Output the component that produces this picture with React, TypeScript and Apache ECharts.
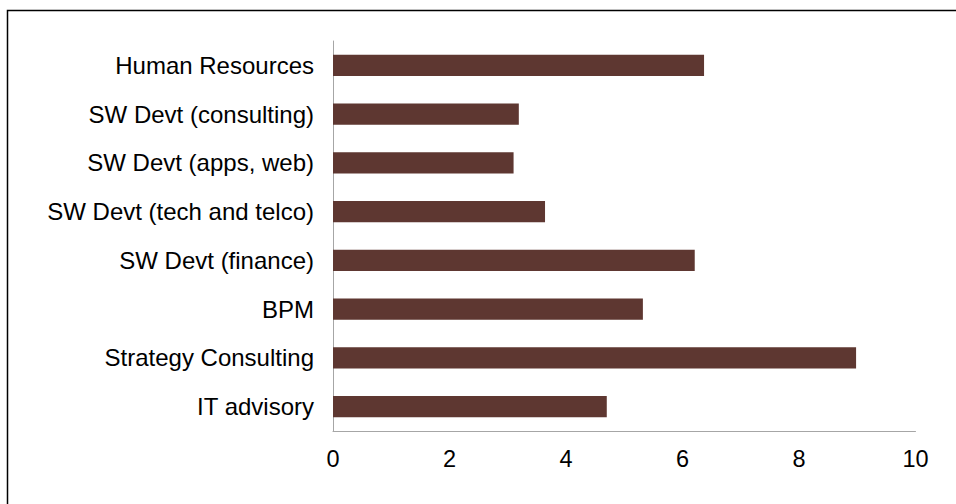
import React, { useEffect, useRef } from "react";
import * as echarts from "echarts";

const categories = [
  "IT advisory",
  "Strategy Consulting",
  "BPM",
  "SW Devt (finance)",
  "SW Devt (tech and telco)",
  "SW Devt (apps, web)",
  "SW Devt (consulting)",
  "Human Resources",
];
const values = [4.7, 8.98, 5.32, 6.21, 3.64, 3.1, 3.19, 6.37];
const xTicks = [0, 10];

export default function App() {
  const ref = useRef<HTMLDivElement>(null);
  useEffect(() => {
    if (!ref.current) return;
    const chart = echarts.init(ref.current, null, { renderer: "svg" });
    chart.setOption({
      animation: false,
      backgroundColor: "#ffffff",
      textStyle: { fontFamily: "Liberation Sans, Arial, sans-serif" },
      graphic: [
        {
          type: "rect",
          shape: { x: 7.5, y: 10.5, width: 1000, height: 1000 },
          style: { fill: "none", stroke: "#000000", lineWidth: 1.5 },
          silent: true,
        },
      ],
      grid: { left: 333, top: 41, right: 40.5, bottom: 73, containLabel: false },
      xAxis: {
        type: "value",
        min: xTicks[0],
        max: xTicks[1],
        interval: 2,
        axisLine: { show: true, lineStyle: { color: "#A6A6A6", width: 1 } },
        axisTick: { show: false },
        splitLine: { show: false },
        axisLabel: { color: "#000000", fontSize: 23.5, margin: 16 },
      },
      yAxis: {
        type: "category",
        data: categories,
        axisLine: { show: true, lineStyle: { color: "#A6A6A6", width: 1 } },
        axisTick: { show: false },
        axisLabel: { color: "#000000", fontSize: 24, margin: 19 },
      },
      series: [
        {
          type: "bar",
          data: values,
          barWidth: "44%",
          itemStyle: { color: "#5E3731" },
        },
      ],
    });
    return () => chart.dispose();
  }, []);
  return <div ref={ref} style={{ width: 956, height: 504, position: "absolute", left: 0, top: 0 }} />;
}
